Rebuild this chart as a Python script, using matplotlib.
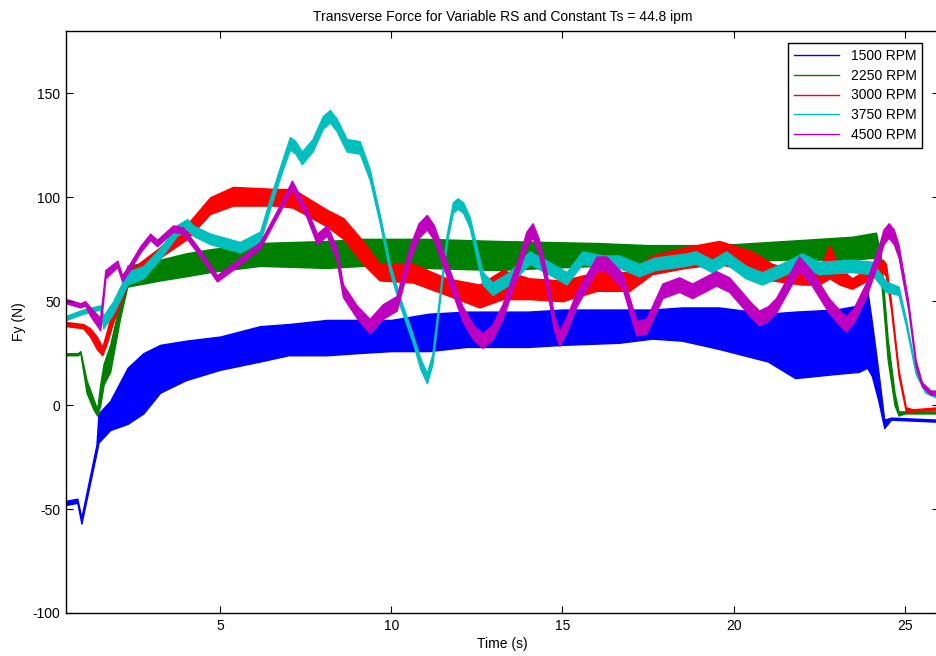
import matplotlib
matplotlib.use('Agg')
import matplotlib.pyplot as plt
import numpy as np

plt.rcParams['font.family'] = ['Liberation Sans', 'DejaVu Sans']
plt.rcParams['font.size'] = 10
plt.rcParams['axes.unicode_minus'] = False

# 1500 RPM - wide oscillation band (lower / upper envelope, N)
t_1500 = [0.51, 0.83, 0.95, 1.39, 1.45, 1.79, 2.3, 2.76, 3.25, 4.0, 5.0, 6.17, 7.0, 8.12, 9.0,
          10.0, 11.1, 12.2, 14.0, 15.0, 16.66, 17.62, 18.5, 19.58, 21.0, 21.8, 22.99, 23.66,
          23.9, 24.04, 24.23, 24.4, 24.6, 26.0]
lo_1500 = [-48, -47, -57, -23, -18, -12, -9, -4, 6, 12, 17, 21, 24, 24, 25,
           26, 26, 28, 28, 29, 30, 32, 31, 27, 21, 13, 15, 16,
           18, 14, 2, -11, -7, -8]
hi_1500 = [-46, -45, -54, -19, -4, 2, 18, 25, 29, 31, 33, 38, 39, 41, 41,
           41, 44, 45, 45, 46, 46, 46, 47, 47, 44, 45, 46, 48,
           56, 40, 16, -7, -6, -7]

# 2250 RPM
t_2250 = [0.51, 0.85, 0.92, 1.1, 1.3, 1.41, 1.5, 1.6, 1.79, 2.08, 2.29, 2.6, 3.25, 4.0, 4.71,
          6.17, 8.12, 9.17, 11.0, 13.08, 16.0, 17.5, 19.58, 21.53, 23.46, 24.16, 24.3, 24.5,
          24.7, 24.82, 25.0, 26.0]
lo_2250 = [24, 24, 25, 6, -2, -5, 0, 10, 16, 42, 57, 58, 60, 62, 64,
           67, 66, 67, 66, 65, 67, 67, 69, 70, 70, 71, 62, 22,
           0, -5, -4, -4]
hi_2250 = [25, 25, 26, 12, 3, -2, 10, 20, 29, 50, 67, 68, 70, 73, 75,
           78, 79, 80, 80, 79, 78, 77, 77, 79, 81, 83, 72, 32,
           6, -3, -3, -3]

# 3000 RPM
t_3000 = [0.51, 1.0, 1.2, 1.4, 1.56, 1.7, 1.88, 2.29, 3.25, 4.04, 4.71, 5.38, 6.66, 7.13, 8.12,
          8.6, 9.17, 9.66, 10.63, 11.62, 12.58, 13.25, 14.04, 15.0, 16.0, 16.96, 17.62, 18.6,
          19.58, 20.54, 21.12, 22.0, 22.5, 22.8, 23.1, 23.46, 24.36, 24.45, 24.59, 24.82,
          25.03, 25.23, 26.0]
lo_3000 = [38, 37, 33, 27, 24, 30, 40, 58, 71, 80, 92, 96, 96, 95, 86,
           80, 68, 60, 59, 53, 47, 51, 51, 50, 55, 55, 63, 66,
           68, 64, 60, 58, 58, 61, 58, 56, 64, 62, 47, 14,
           -3, -3, -2]
hi_3000 = [40, 39, 37, 33, 28, 36, 48, 64, 76, 87, 100, 105, 104, 104, 94,
           90, 79, 68, 68, 61, 58, 65, 61, 60, 64, 64, 72, 76,
           79, 74, 68, 64, 65, 77, 66, 61, 70, 68, 51, 17,
           -1, -2, -1]

# 3750 RPM (centre and half-width of the band)
t_3750 = [0.51, 1.0, 1.5, 1.59, 1.88, 2.29, 2.76, 3.25, 3.74, 4.04, 4.21, 4.71, 5.58, 6.17, 6.46,
          6.75, 7.04, 7.2, 7.39, 7.7, 8.0, 8.21, 8.4, 8.7, 9.08, 9.37, 9.66, 9.96, 10.25, 10.63,
          10.85, 11.04, 11.2, 11.33, 11.62, 11.8, 11.94, 12.1, 12.29, 12.67, 12.96, 13.45,
          14.04, 14.82, 15.12, 15.58, 16.17, 16.66, 17.24, 17.7, 18.6, 18.9, 19.37, 19.78,
          20.36, 20.83, 21.53, 22.0, 22.49, 23.46, 24.04, 24.45, 24.82, 25.03, 25.32, 25.6, 26.0]
mid_3750 = [42, 45, 47, 40, 47, 61, 64, 73, 84, 87, 84, 80, 76, 81, 97,
            112, 126, 124, 119, 125, 136, 139, 135, 125, 124, 111, 90, 66, 50, 32,
            20, 13, 22, 40, 80, 95, 97, 95, 88, 61, 56, 61,
            71, 64, 61, 71, 69, 69, 65, 68, 70, 71, 67, 71,
            64, 61, 66, 70, 66, 67, 66, 57, 55, 40, 16, 7, 4]
amp_3750 = [1, 1, 1, 3, 3, 3, 3, 2.5, 2.5, 2.5, 2.5, 2.5, 2.5, 2.5, 2.5,
            2.5, 3, 3, 3, 3, 3, 3, 3, 3, 3, 2.5, 2, 2, 2, 2,
            2.5, 2.5, 2.5, 2, 2, 2.5, 2.5, 2.5, 2.5, 3, 3, 3,
            3, 3, 3, 3, 3, 3, 3, 3, 3, 3, 3, 3,
            3, 3, 3, 3, 3, 3, 3, 2.5, 2, 1.5, 1, 1, 1]

# 4500 RPM (centre and half-width of the band)
t_4500 = [0.51, 0.92, 1.06, 1.21, 1.5, 1.65, 2.0, 2.14, 2.38, 2.67, 2.96, 3.16, 3.63, 3.92, 4.42,
          4.91, 5.49, 6.17, 6.66, 7.1, 7.54, 7.83, 8.12, 8.4, 8.59, 8.99, 9.37, 9.75, 10.16,
          10.54, 10.8, 11.04, 11.25, 11.5, 12.08, 12.4, 12.67, 12.95, 13.25, 13.75, 13.95,
          14.13, 14.3, 14.54, 14.75, 14.91, 15.1, 15.41, 16.0, 16.28, 16.75, 17.16, 17.45,
          17.92, 18.41, 18.79, 19.49, 19.87, 20.5, 20.74, 21.0, 21.24, 21.91, 22.29, 22.78,
          23.1, 23.28, 23.5, 23.86, 24.24, 24.38, 24.53, 24.68, 24.82, 25.1, 25.32, 25.5,
          25.76, 26.0]
mid_4500 = [50, 48, 49, 45, 39, 63, 68, 61, 67, 75, 81, 78, 85, 84, 73,
            61, 68, 77, 92, 106, 92, 80, 84, 73, 55, 45, 38, 45, 49,
            73, 84, 88, 83, 71, 44, 35, 31, 35, 45, 69, 80,
            84, 77, 60, 40, 32, 38, 51, 68, 68, 60, 37, 38,
            55, 58, 55, 61, 58, 46, 42, 44, 48, 68, 61, 48,
            42, 39, 43, 55, 73, 81, 84, 81, 74, 48, 20, 10,
            6, 6]
amp_4500 = [1, 1, 1, 2, 3, 2, 1.5, 1.5, 1.5, 1.5, 1.5, 1.5, 1.5, 1.5, 1.5,
            1.5, 1.5, 1.5, 1.5, 2, 2, 2.5, 2.5, 3, 3, 3, 3.5, 3.5, 3.5,
            3.5, 3.5, 3.5, 3.5, 3.5, 3.5, 3.5, 3.5, 3.5, 3.5, 3.5, 3.5,
            3.5, 3.5, 3.5, 3.5, 3.5, 3.5, 3.5, 3.5, 3.5, 3.5, 3.5, 3.5,
            3.5, 3.5, 3.5, 3.5, 3.5, 3.5, 3.5, 3.5, 3.5, 3.5, 3.5, 3.5,
            3.5, 3.5, 3.5, 3.5, 3.5, 3.5, 3.5, 3.5, 3, 2, 1.5, 1,
            1, 1]

labels = ['1500 RPM', '2250 RPM', '3000 RPM', '3750 RPM', '4500 RPM']
colors = ['#0000ff', '#008000', '#ff0000', '#00bfbf', '#bf00bf']

fig = plt.figure(figsize=(9.37, 6.56), dpi=100)
ax = fig.add_axes([66 / 937, 43 / 656, 873 / 937, 582 / 656])

bands = [
    (t_1500, np.array(lo_1500), np.array(hi_1500)),
    (t_2250, np.array(lo_2250), np.array(hi_2250)),
    (t_3000, np.array(lo_3000), np.array(hi_3000)),
    (t_3750, np.array(mid_3750) - np.array(amp_3750), np.array(mid_3750) + np.array(amp_3750)),
    (t_4500, np.array(mid_4500) - np.array(amp_4500), np.array(mid_4500) + np.array(amp_4500)),
]

handles = []
for (t, lo, hi), c, lab in zip(bands, colors, labels):
    ax.fill_between(t, lo, hi, color=c, edgecolor=c, lw=1.0)
    h, = ax.plot([], [], color=c, lw=1.0, label=lab)
    handles.append(h)

ax.set_xlim(0.5, 26)
ax.set_ylim(-100, 180)
ax.set_xticks([5, 10, 15, 20, 25])
ax.set_yticks([-100, -50, 0, 50, 100, 150])
ax.tick_params(direction='in', length=5, width=0.8, top=True, right=True, pad=4)
for s in ax.spines.values():
    s.set_linewidth(1.0)

ax.set_title('Transverse Force for Variable RS and Constant Ts = 44.8 ipm', fontsize=10, pad=7.5)
ax.set_xlabel('Time (s)', labelpad=3)
ax.set_ylabel('Fy (N)', labelpad=5)

leg = ax.legend(handles=handles, loc='upper right', bbox_to_anchor=(0.9805, 0.979),
                borderaxespad=0, fancybox=False, edgecolor='black', framealpha=1,
                handlelength=3.3, labelspacing=0.42, borderpad=0.4)
leg.get_frame().set_linewidth(1.0)

fig.savefig('out.png', dpi=100)
